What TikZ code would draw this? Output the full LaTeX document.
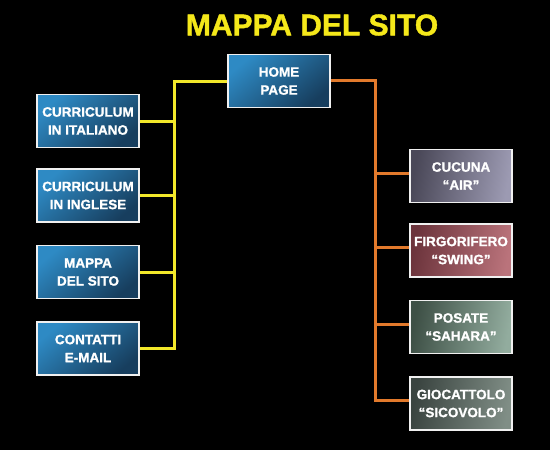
\documentclass[tikz,border=0pt]{standalone}
\usepackage{fontspec}
\setmainfont{Liberation Sans}[BoldFeatures={FakeBold=1.3}]
\usepackage{tikz}
\usetikzlibrary{positioning}
\definecolor{titleyellow}{HTML}{F5E81A}
\definecolor{lineyellow}{HTML}{F2E82A}
\definecolor{lineorange}{HTML}{E27A2C}
\definecolor{bluelight}{HTML}{2E8AC4}
\definecolor{bluedark}{HTML}{173E5E}
\definecolor{cucinalight}{HTML}{9C9AB2}
\definecolor{cucinadark}{HTML}{4A4858}
\definecolor{frigolight}{HTML}{BA737B}
\definecolor{frigodark}{HTML}{6C343C}
\definecolor{posatelight}{HTML}{92AC9E}
\definecolor{posatedark}{HTML}{3E5046}
\definecolor{giocolight}{HTML}{808E86}
\definecolor{giocodark}{HTML}{3A4440}
\begin{document}
\begin{tikzpicture}[x=1pt, y=-1pt,
    page/.style={draw=white!88!gray, line width=1.5pt, minimum width=102pt, minimum height=53pt,
        inner sep=0pt, align=center, text=white, font=\fontsize{13.5}{18}\selectfont\bfseries},
    bluepage/.style={page, top color=bluelight, bottom color=bluedark, shading angle=40},
    shopage/.style={page, left color=#1dark, right color=#1light, shading angle=80},
    yline/.style={lineyellow, line width=3pt},
    oline/.style={lineorange, line width=3pt}]
	        \fill[black](0,0) rectangle (550,450);
		    \node[titleyellow, font=\fontsize{30}{32}\selectfont\bfseries] (title) at (312,25) {MAPPA DEL SITO};
		    \node[bluepage] (home) at (279,81) {HOME\\PAGE};
		    \node[bluepage] (cvita) at (88,121) {CURRICULUM\\IN ITALIANO};
		    \node[bluepage, below=20pt of cvita] (cveng) {CURRICULUM\\IN INGLESE};
		    \node[bluepage, below=22pt of cveng] (mappa) {MAPPA\\DEL SITO};
		    \node[bluepage, below=22pt of mappa] (contatti) {CONTATTI\\E-MAIL};
		    \node[shopage=cucina] (cucina) at (461,176) {CUCUNA\\“AIR”};
		    \node[shopage=frigo, below=20pt of cucina] (frigo) {FIRGORIFERO\\“SWING”};
		    \node[shopage=posate, below=22pt of frigo] (posate) {POSATE\\“SAHARA”};
		    \node[shopage=gioco, below=22pt of posate] (gioco) {GIOCATTOLO\\“SICOVOLO”};
		    \coordinate (ytrunk) at (174,81);
		    \coordinate (otrunk) at (375,80);
		    \draw[yline](home.west) -| (contatti.east -| ytrunk) -- (contatti.east);
		    \foreach \p in {cvita,cveng,mappa}
		    \draw[yline](\p.east) -- (\p.east -| ytrunk);
		    \draw[oline](home.east |- otrunk) -| ([yshift=3pt]gioco.west -| otrunk) -- ([yshift=3pt]gioco.west);
		    \foreach \p in {cucina,frigo,posate}
		    \draw[oline]([yshift=3pt]\p.west) -- ([yshift=3pt]\p.west -| otrunk);
        \end{tikzpicture}
\end{document}
